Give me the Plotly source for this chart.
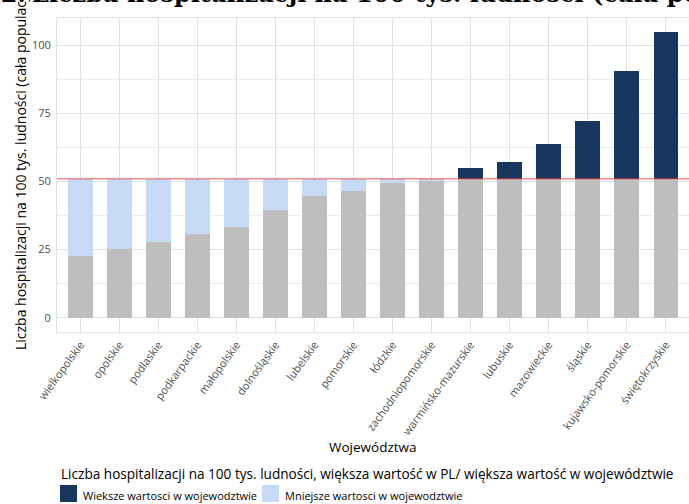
import plotly.graph_objects as go

# Hospitalisations per 100k inhabitants by voivodeship, against the national value
voivodeships = [
    "wielkopolskie", "opolskie", "podlaskie", "podkarpackie", "małopolskie",
    "dolnośląskie", "lubelskie", "pomorskie", "łódzkie", "zachodniopomorskie",
    "warmińsko-mazurskie", "lubuskie", "mazowieckie", "śląskie",
    "kujawsko-pomorskie", "świętokrzyskie",
]
rate = [22.5, 25.1, 27.6, 30.6, 33.1, 39.4, 44.5, 46.3, 49.3, 50.4,
        55.1, 57.0, 63.6, 72.0, 90.4, 104.7]
poland_rate = 51.0

y_ticks = [0, 25, 50, 75, 100]

title_number = "Wykres 1.2."
title_text = "Liczba hospitalizacji na 100 tys. ludności (cała populacja)"
legend_title = ("Liczba hospitalizacji na 100 tys. ludności, większa wartość w PL/ "
                "większa wartość w województwie")
label_higher = "Wieksze wartosci w wojewodztwie"
label_lower = "Mniejsze wartosci w wojewodztwie"

NAVY = "#17375e"
LIGHT = "#c6daf6"
GREY = "#bebebe"
GRID = "#e0e0e0"
SANS = "Open Sans"
SERIF = "DejaVu Serif"

W, H = 689, 504
ML, MR, MT, MB = 57, 0, 18, 172
PW, PH = W - ML - MR, H - MT - MB


def px(x):
    return (x - ML) / PW


def py(y):
    return (H - MB - y) / PH


# stacked pieces: common grey base, then the gap to the national value
base = [min(v, poland_rate) for v in rate]
below = [poland_rate - v if v < poland_rate else 0 for v in rate]
above = [v - poland_rate if v > poland_rate else 0 for v in rate]

fig = go.Figure()
fig.add_bar(x=voivodeships, y=base, marker_color=GREY, marker_line_width=0,
            width=0.62, showlegend=False, hoverinfo="skip")
fig.add_bar(x=voivodeships, y=below, marker_color=LIGHT, marker_line_width=0,
            width=0.62, name=label_lower, showlegend=False)
fig.add_bar(x=voivodeships, y=above, marker_color=NAVY, marker_line_width=0,
            width=0.62, name=label_higher, showlegend=False)

# national reference line
fig.add_shape(type="line", xref="paper", x0=0, x1=1, yref="y",
              y0=poland_rate, y1=poland_rate,
              line=dict(color="rgba(235,60,60,0.6)", width=1.4), layer="above")

ymax = max(rate)
pad = ymax * 0.05

fig.update_layout(
    width=W, height=H,
    margin=dict(l=ML, r=MR, t=MT, b=MB, autoexpand=False),
    barmode="stack",
    bargap=0.38,
    plot_bgcolor="white",
    paper_bgcolor="white",
    font=dict(family=SANS, color="#1a1a1a"),
    showlegend=False,
    xaxis=dict(
        range=[-0.6, len(voivodeships) - 0.4],
        showgrid=True, gridcolor=GRID, gridwidth=1,
        showline=True, mirror=True, linecolor=GRID, linewidth=1,
        tickangle=-54, tickfont=dict(size=11, color="#4d4d4d", family=SANS),
        ticks="outside", ticklen=1, tickcolor="rgba(0,0,0,0)",
        automargin=False, zeroline=False,
    ),
    yaxis=dict(
        range=[-pad, ymax + pad],
        tickvals=y_ticks,
        showgrid=True, gridcolor=GRID, gridwidth=1,
        minor=dict(dtick=12.5, tick0=0, showgrid=True, gridcolor="#ebebeb",
                   gridwidth=0.7),
        showline=True, mirror=True, linecolor=GRID, linewidth=1,
        tickfont=dict(size=11, color="#4d4d4d", family=SANS),
        ticks="outside", ticklen=3, tickcolor="rgba(0,0,0,0)",
        automargin=False, zeroline=False,
    ),
)

annotations = [
    # chart title (runs past the top and right edges)
    dict(text="<b>" + title_number + "</b>", xref="paper", yref="paper",
         x=px(28), y=py(10), xanchor="right", yanchor="bottom", showarrow=False,
         font=dict(family=SERIF, size=24, color="#000000")),
    dict(text="<b>" + title_text + "</b>", xref="paper", yref="paper",
         x=px(30), y=py(10), xanchor="left", yanchor="bottom", showarrow=False,
         font=dict(family=SERIF, size=24, color="#000000")),
    # axis titles
    dict(text="Województwa", xref="paper", yref="paper", x=px(373), y=py(447),
         xanchor="center", yanchor="middle", showarrow=False,
         font=dict(family=SANS, size=13.5, color="#000000")),
    dict(text="Liczba hospitalizacji na 100 tys. ludności (cała populacja)",
         xref="paper", yref="paper", x=px(20), y=py(168), textangle=-90,
         xanchor="center", yanchor="middle", showarrow=False,
         font=dict(family=SANS, size=14, color="#000000")),
    # legend
    dict(text=legend_title, xref="paper", yref="paper", x=px(59), y=py(473),
         xanchor="left", yanchor="middle", showarrow=False,
         font=dict(family=SANS, size=13.6, color="#000000")),
    dict(text=label_higher, xref="paper", yref="paper", x=px(81), y=py(495),
         xanchor="left", yanchor="middle", showarrow=False,
         font=dict(family=SANS, size=11, color="#000000")),
    dict(text=label_lower, xref="paper", yref="paper", x=px(283), y=py(495),
         xanchor="left", yanchor="middle", showarrow=False,
         font=dict(family=SANS, size=11, color="#000000")),
]
fig.update_layout(annotations=annotations)

for x0, colour in [(60, NAVY), (262, LIGHT)]:
    fig.add_shape(type="rect", xref="paper", yref="paper",
                  x0=px(x0), x1=px(x0 + 17), y0=py(485), y1=py(502),
                  fillcolor=colour, line_width=0)

fig.write_html("out.html")
